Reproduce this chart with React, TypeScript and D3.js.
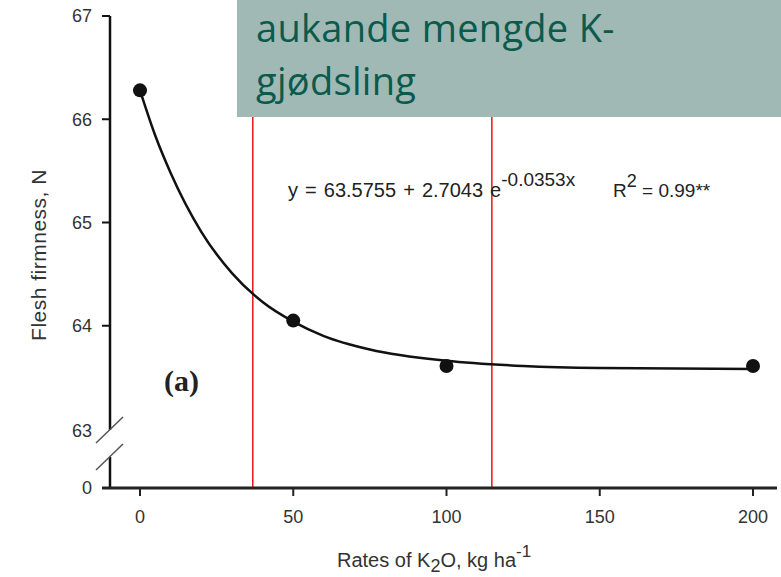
import * as d3 from "d3";

// fitted points and curve
const rates = [0, 50, 100, 200];
const firmness = [66.28, 64.05, 63.61, 63.61];
const curveX = [0, 5, 10, 20, 30, 40, 50, 60, 75, 100, 125, 150, 200];
const curveY = [66.28, 65.84, 65.48, 64.91, 64.51, 64.23, 64.04, 63.9, 63.77, 63.66, 63.61, 63.59, 63.58];
const xTicks = [0, 50, 100, 150, 200];
const yTicks = [64, 65, 66, 67];
const redLines = [36.8, 114.8];

export default function App() {
  const W = 781;
  const H = 577;
  const x = d3.scaleLinear().domain([0, 200]).range([140, 753]);
  const y = d3.scaleLinear().domain([63, 67]).range([429, 16]);
  const axisX = 110;
  const zeroY = 488;

  const line = d3
    .line<number>()
    .x((d) => x(d))
    .y((_, i) => y(curveY[i]))
    .curve(d3.curveMonotoneX);

  const font = "Liberation Sans, Arial, sans-serif";
  const labelColor = "#333";

  return (
    <svg
      width={W}
      height={H}
      style={{ position: "absolute", left: 0, top: 0, background: "#fff" }}
      fontFamily={font}
    >
      {/* red guide lines */}
      {redLines.map((v) => (
        <line key={v} x1={x(v)} x2={x(v)} y1={0} y2={zeroY} stroke="#e8141c" strokeWidth={1.5} />
      ))}

      {/* y axis, broken */}
      <line x1={axisX} x2={axisX} y1={y(67)} y2={430} stroke="#111" strokeWidth={2.5} />
      <line x1={axisX} x2={axisX} y1={457} y2={zeroY} stroke="#111" strokeWidth={2.5} />
      {[430, 457].map((c) => (
        <line key={c} x1={axisX - 14} x2={axisX + 13} y1={c + 13} y2={c - 13} stroke="#555" strokeWidth={1.5} />
      ))}
      {yTicks.map((t) => (
        <g key={t}>
          <line x1={axisX - 8} x2={axisX} y1={y(t)} y2={y(t)} stroke="#111" strokeWidth={2} />
          <text x={92} y={y(t)} dy="0.35em" textAnchor="end" fontSize={18} fill={labelColor}>
            {t}
          </text>
        </g>
      ))}
      <text x={92} y={y(63) + 2} dy="0.35em" textAnchor="end" fontSize={18} fill={labelColor}>
        63
      </text>
      <line x1={axisX - 8} x2={axisX} y1={zeroY} y2={zeroY} stroke="#111" strokeWidth={2} />
      <text x={92} y={zeroY} dy="0.35em" textAnchor="end" fontSize={18} fill={labelColor}>
        0
      </text>

      {/* x axis */}
      <line x1={axisX - 8} x2={777} y1={zeroY} y2={zeroY} stroke="#222" strokeWidth={3} />
      {xTicks.map((t) => (
        <g key={t}>
          <line x1={x(t)} x2={x(t)} y1={zeroY} y2={zeroY + 8} stroke="#222" strokeWidth={2} />
          <text x={x(t)} y={zeroY + 29} dy="0.35em" textAnchor="middle" fontSize={18} fill={labelColor}>
            {t}
          </text>
        </g>
      ))}

      {/* axis titles */}
      <text x={337} y={567} fontSize={20} fill={labelColor}>
        Rates of K<tspan dy={5} fontSize={18}>2</tspan>
        <tspan dy={-5}>O, kg ha</tspan>
        <tspan dy={-10} fontSize={17}>-1</tspan>
      </text>
      <text
        transform={`translate(46, 255) rotate(-90)`}
        textAnchor="middle"
        fontSize={21}
        letterSpacing={0.5}
        fill={labelColor}
      >
        Flesh firmness, N
      </text>

      {/* fitted curve and points */}
      <path d={line(curveX) ?? ""} fill="none" stroke="#111" strokeWidth={2.5} />
      {rates.map((r, i) => (
        <circle key={r} cx={x(r)} cy={y(firmness[i])} r={7} fill="#111" />
      ))}

      {/* equation */}
      <text x={288} y={197} fontSize={20} wordSpacing={1.5} fill="#222">
        y = 63.5755 + 2.7043 e<tspan dy={-11} fontSize={19}>-0.0353x</tspan>
      </text>
      <text x={613} y={197} fontSize={19} fill="#222">
        R<tspan dy={-10} fontSize={18}>2</tspan>
        <tspan dy={10}> = 0.99**</tspan>
      </text>

      <text x={164} y={391} fontSize={30} fontWeight="bold" fontFamily="Liberation Serif, Times New Roman, serif" fill="#222">
        (a)
      </text>

      {/* overlay box */}
      <rect x={237} y={0} width={W - 237} height={117} fill="#a1b9b5" />
      <text x={256} y={42} fontSize={38} letterSpacing={0.3} fill="#0b5a4c" fontFamily="Open Sans, sans-serif">
        aukande mengde K-
      </text>
      <text x={256} y={95} fontSize={38} letterSpacing={0.3} fill="#0b5a4c" fontFamily="Open Sans, sans-serif">
        gjødsling
      </text>
    </svg>
  );
}
